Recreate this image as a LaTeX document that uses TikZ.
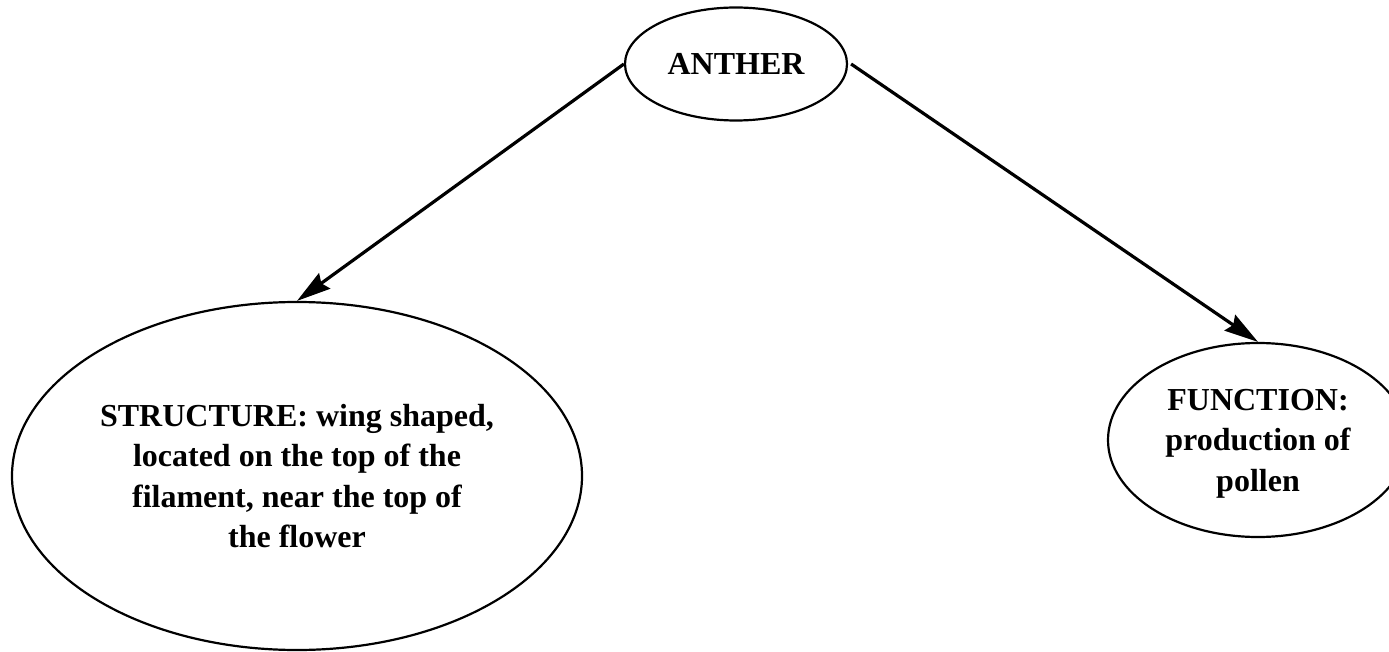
\documentclass[tikz,border=0pt]{standalone}
\usepackage{fontspec}
\setmainfont{Liberation Serif}
\usetikzlibrary{shapes.geometric,arrows.meta}

\tikzset{
  oval/.style={draw, ellipse, line width=2.2pt, inner sep=0pt, align=center,
               text depth=0pt, font=\bfseries\fontsize{32}{40.5}\selectfont},
  link/.style={line width=3.2pt,
               -{Stealth[length=34pt, width=19pt, inset=4pt]}}
}

\begin{document}
\begin{tikzpicture}[x=1pt, y=-1pt]
  \useasboundingbox (0,0) rectangle (1389,652);

  % central term
  \node[oval, minimum width=222pt, minimum height=113pt] (anther) at (736,64) {ANTHER};

  % structure description
  \node[oval, minimum width=570pt, minimum height=348pt] (struct) at (297,476)
    {STRUCTURE: wing shaped,\\located on the top of the\\filament, near the top of\\the flower};

  % function description
  \node[oval, minimum width=300pt, minimum height=194pt] (func) at (1258,440)
    {FUNCTION:\\production of\\pollen};

  % connectors
  \draw[link] (anther.west) -- (struct.north);
  \draw[link] ([xshift=3pt]anther.east) -- (func.north);
\end{tikzpicture}
\end{document}
